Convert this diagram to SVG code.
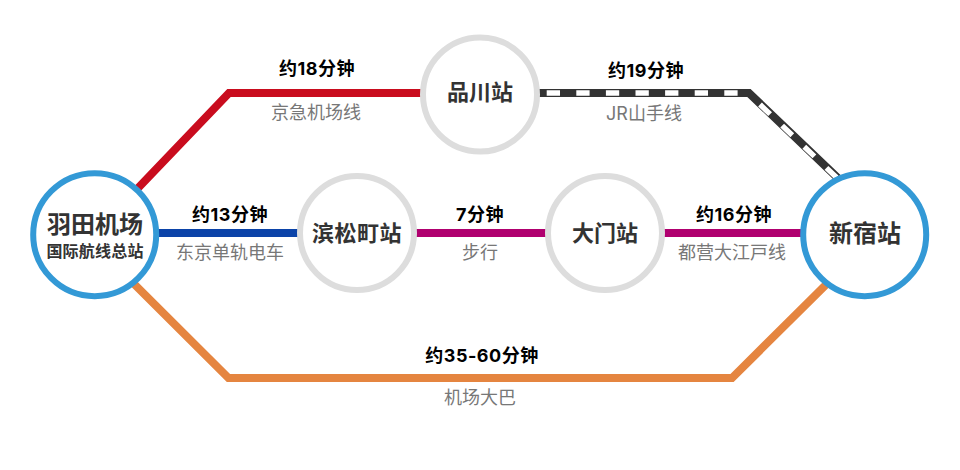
<svg xmlns="http://www.w3.org/2000/svg" width="960" height="470" viewBox="0 0 960 470">
<style>
text{font-family:"Inter","Noto Sans CJK SC",sans-serif;text-anchor:middle}
.t{font-size:18px;font-weight:700;fill:#000;letter-spacing:.5px}
.l{font-size:18px;font-weight:400;fill:#777}
.n{font-size:24px;font-weight:700;fill:#333}
.m{font-size:22px;font-weight:700;fill:#333}
.s{font-size:16px;font-weight:700;fill:#333;letter-spacing:.2px}
.c{fill:#fff;stroke-width:6}
.g{stroke:#ddd}
.b{stroke:#3399d6}
.ln{fill:none;stroke-width:8}
</style>
<rect width="960" height="470" fill="#fff"/>
<g id="connectors">
<path class="ln" stroke="#c90c1e" d="M95 233L229 93H480"/>
<path class="ln" stroke="#333" d="M480 93H749L865 204"/>
<path fill="none" stroke="#fff" stroke-width="5.4" stroke-dasharray="13.3 16.3" d="M546.7 93H745"/>
<path fill="none" stroke="#fff" stroke-width="5.4" stroke-dasharray="14 16.600" d="M760 104.500L845 185.500"/>
<path class="ln" stroke="#0b43a8" d="M95 233H357"/>
<path class="ln" stroke="#b0006f" d="M357 233H865"/>
<path class="ln" stroke="#e58540" d="M95 245L228.500 378H732L865 246"/>
</g>
<g id="haneda"><circle class="c b" cx="94.700" cy="234.700" r="61.500"/><text class="n" x="95" y="233">羽田机场</text><text class="s" x="95" y="257">国际航线总站</text></g>
<g id="shinagawa"><circle class="c g" cx="480" cy="94.500" r="57"/><text class="m" x="480" y="100">品川站</text></g>
<g id="hamamatsucho"><circle class="c g" cx="357" cy="233" r="57"/><text class="m" x="357" y="241" style="letter-spacing:.5px">滨松町站</text></g>
<g id="daimon"><circle class="c g" cx="605" cy="233" r="57"/><text class="m" x="605" y="241">大门站</text></g>
<g id="shinjuku"><circle class="c b" cx="864.700" cy="234.700" r="61.500"/><text class="n" x="865" y="242">新宿站</text></g>
<g id="labels">
<text class="t" x="317" y="75">约18分钟</text><text class="l" x="316" y="119">京急机场线</text>
<text class="t" x="646" y="77">约19分钟</text><text class="l" x="644" y="120">JR山手线</text>
<text class="t" x="230" y="221">约13分钟</text><text class="l" x="230" y="259">东京单轨电车</text>
<text class="t" x="480" y="221">7分钟</text><text class="l" x="480" y="259">步行</text>
<text class="t" x="734" y="221">约16分钟</text><text class="l" x="732" y="259">都营大江戸线</text>
<text class="t" x="482" y="362">约35-60分钟</text><text class="l" x="480" y="404">机场大巴</text>
</g>
</svg>
